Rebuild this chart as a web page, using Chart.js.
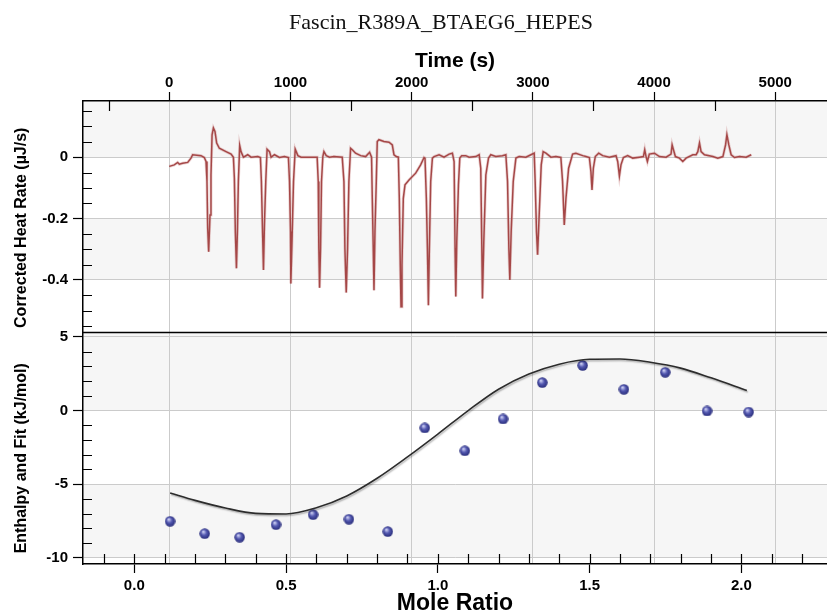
<!DOCTYPE html>
<html>
<head>
<meta charset="utf-8">
<title>Fascin_R389A_BTAEG6_HEPES</title>
<script src="https://cdn.jsdelivr.net/npm/chart.js@4.4.1/dist/chart.umd.min.js"></script>
<style>
  html, body { margin: 0; padding: 0; background: #fff; }
  #wrap { width: 827px; height: 613px; }
</style>
</head>
<body>
<div id="wrap"><canvas id="itc" width="827" height="613"></canvas></div>
<script>
// ─── Values ──────────────────────────────────────────────────────────────────
const TITLE = "Fascin_R389A_BTAEG6_HEPES";

// raw thermogram: time (s) and corrected heat rate (µJ/s)
const THERMO_TIME = [
    0, 41, 69, 83, 110, 152, 179, 193, 262, 289,
    303, 311, 317, 325, 336, 344, 353, 364, 377, 391,
    413, 468, 510, 529, 537, 545, 554, 562, 570, 581,
    592, 612, 647, 675, 730, 752, 760, 769, 777, 785,
    796, 807, 827, 840, 868, 909, 950, 983, 992, 1000,
    1003, 1014, 1025, 1039, 1061, 1088,
    1124, 1220, 1229, 1234, 1240, 1248, 1256, 1267, 1276, 1295,
    1322, 1358, 1427, 1441, 1449, 1460, 1471, 1482, 1496, 1510,
    1537, 1579, 1620, 1653, 1669, 1675, 1683, 1689, 1697, 1708,
    1716, 1730, 1771, 1813, 1840, 1854, 1873, 1890, 1898, 1906,
    1912, 1920, 1931, 1945, 1978, 2033, 2074, 2102, 2110, 2121,
    2130, 2138, 2146, 2157, 2171, 2185, 2226, 2267, 2309,
    2336, 2350, 2358, 2364, 2372, 2386, 2397, 2413, 2446, 2474,
    2529, 2557, 2570, 2579, 2584, 2595, 2612, 2634, 2653, 2694,
    2749, 2777, 2791, 2802, 2810, 2821, 2838, 2860, 2887, 2942,
    2984, 3011, 3019, 3030, 3039, 3052, 3069, 3085, 3108, 3149,
    3190, 3231, 3245, 3259, 3273, 3295, 3328, 3355, 3411,
    3438, 3466, 3479, 3488, 3499, 3515, 3543, 3576, 3631, 3686,
    3700, 3714, 3727, 3747, 3782, 3824, 3879, 3912, 3923, 3934,
    3945, 3961, 4003, 4044, 4099, 4140, 4149, 4160, 4176, 4209,
    4237, 4264, 4320, 4347, 4361, 4375, 4388, 4416, 4485, 4526,
    4568, 4590, 4601, 4617, 4636, 4664, 4705, 4760, 4802,
];
const THERMO_RATE = [
    -0.030, -0.025, -0.017, -0.023, -0.020, -0.017, -0.003, 0.008, 0.005, -0.001,
    -0.014, -0.079, -0.232, -0.308, -0.188, -0.058, 0.073, 0.095, 0.084, 0.046,
    0.029, 0.018, 0.010, 0, -0.068, -0.242, -0.362, -0.242, -0.079, 0.038,
    0.018, 0, 0.008, 0, 0.002, -0.001, -0.079, -0.232, -0.367, -0.221,
    -0.079, 0.026, 0.018, 0, 0.008, -0.001, 0.002, -0.001, -0.079, -0.242,
    -0.411, -0.253, -0.079, 0.026, 0.005, 0,
    0, 0, -0.079, -0.297, -0.425, -0.297, -0.079, 0.002, 0.018, 0.005,
    0, 0.002, 0, -0.079, -0.297, -0.441, -0.297, -0.079, 0.029, 0.024,
    0.013, 0.005, 0.002, 0.016, 0, -0.134, -0.297, -0.433, -0.242, -0.079,
    0.051, 0.057, 0.051, 0.049, 0.040, 0.008, 0.002, 0, -0.134, -0.351,
    -0.487, -0.351, -0.134, -0.090, -0.074, -0.052, -0.025, -0.001, -0.003, -0.134,
    -0.297, -0.482, -0.297, -0.079, -0.003, 0.002, 0.008, 0, 0.010,
    0.013, -0.014, -0.297, -0.454, -0.275, -0.090, -0.003, 0.005, 0.005, 0,
    0.002, 0.008, -0.036, -0.297, -0.460, -0.275, -0.058, -0.003, 0.008, 0.002,
    0.005, 0.008, -0.079, -0.297, -0.400, -0.242, -0.079, -0.003, 0.002, 0,
    0.008, 0.013, -0.079, -0.242, -0.318, -0.188, -0.025, 0.018, 0.013, 0,
    0.002, -0.001, -0.079, -0.221, -0.134, -0.036, 0.010, 0.013, 0.005,
    0.002, -0.001, -0.047, -0.107, -0.036, 0.002, 0.013, 0.005, 0, 0.005,
    -0.014, -0.061, -0.025, -0.001, 0.005, -0.003, 0, 0.002, 0.024, 0.002,
    -0.014, 0.010, 0.013, 0.002, 0, 0.010, 0.040, 0.024, 0.002, -0.003,
    -0.014, -0.003, 0.008, 0.008, 0.018, 0.046, 0.018, 0.008, 0.002, -0.003,
    0.002, 0.040, 0.073, 0.040, 0.008, -0.001, 0.002, 0, 0.008,
];

// integrated injections
const MOLE_RATIO = [0.118, 0.232, 0.347, 0.467, 0.589, 0.707, 0.835, 0.957,
                    1.089, 1.215, 1.344, 1.477, 1.613, 1.749, 1.887, 2.024];
const ENTHALPY   = [-7.52, -8.36, -8.60, -7.75, -7.07, -7.38, -8.22, -1.18,
                    -2.73, -0.57, 1.90, 3.06, 1.44, 2.60, -0.03, -0.10];

// fitted curve
const FIT_RATIO    = [0.118, 0.2, 0.3, 0.4, 0.5, 0.6, 0.7, 0.8, 0.9, 1.0,
                      1.1, 1.2, 1.3, 1.4, 1.5, 1.6, 1.7, 1.8, 1.9, 2.018];
const FIT_ENTHALPY = [-5.60, -6.10, -6.62, -6.98, -7.02, -6.60, -5.80, -4.60, -3.15, -1.60,
                      0.00, 1.45, 2.48, 3.15, 3.48, 3.50, 3.28, 2.88, 2.22, 1.36];

// ─── Axis ticks ──────────────────────────────────────────────────────────────
const TIME_TICKS  = [0, 1000, 2000, 3000, 4000, 5000];
const TIME_MINOR  = [-500, 500, 1500, 2500, 3500, 4500];
const HEAT_TICKS  = [0, -0.2, -0.4];
const HEAT_MINOR  = [0.15, 0.1, 0.05, -0.05, -0.1, -0.15, -0.25, -0.3, -0.35, -0.45, -0.5, -0.55];
const ENTH_TICKS  = [5, 0, -5, -10];
const ENTH_MINOR  = [4, 3, 2, 1, -1, -2, -3, -4, -6, -7, -8, -9];
const RATIO_TICKS = [0, 0.5, 1, 1.5, 2];
const RATIO_MINOR = [-0.1, 0, 0.1, 0.2, 0.3, 0.4, 0.5, 0.6, 0.7, 0.8, 0.9, 1.0, 1.1,
                     1.2, 1.3, 1.4, 1.5, 1.6, 1.7, 1.8, 1.9, 2.0, 2.1, 2.2];

// shaded bands (value ranges) in each panel
const HEAT_SHADE = [[0, 1], [-0.4, -0.2]];
const ENTH_SHADE = [[0, 10], [-10, -5]];

// ─── Styling ─────────────────────────────────────────────────────────────────
const FONT   = "'Liberation Sans', Arial, sans-serif";
const GRID   = "#cbcbcb";
const BAND   = "#f6f6f6";

Chart.defaults.font.family = FONT;
Chart.defaults.color = "#000";

// little shaded ball used for the injection points
function makeBall() {
    const c = document.createElement("canvas");
    c.width = c.height = 11;
    const g = c.getContext("2d");
    const grad = g.createRadialGradient(4, 3.5, 0.5, 5.5, 5.5, 5.5);
    grad.addColorStop(0, "#c9ccf2");
    grad.addColorStop(0.45, "#5358b0");
    grad.addColorStop(1, "#262a78");
    g.fillStyle = grad;
    g.beginPath();
    g.arc(5.5, 5.5, 5.2, 0, Math.PI * 2);
    g.fill();
    return c;
}

const tickFont = { size: 15, weight: "bold" };

// bands, inner minor ticks, panel divider, titles
const decorations = {
    id: "decorations",
    beforeDraw(chart) {
        const { ctx, chartArea: a, scales } = chart;
        ctx.save();
        ctx.fillStyle = BAND;
        const shade = (scale, bands) => bands.forEach(([lo, hi]) => {
            const y1 = Math.max(scale.getPixelForValue(hi), scale.top);
            const y2 = Math.min(scale.getPixelForValue(lo), scale.bottom);
            if (y2 > y1) ctx.fillRect(a.left, y1, a.right - a.left, y2 - y1);
        });
        shade(scales.heat, HEAT_SHADE);
        shade(scales.enth, ENTH_SHADE);
        ctx.restore();
    },
    beforeDatasetDraw(chart, args) {
        const ds = chart.data.datasets[args.index];
        if (!ds.shadow) return;
        const ctx = chart.ctx;
        ctx.save();
        ctx.shadowColor = ds.shadow.color;
        ctx.shadowOffsetX = ds.shadow.dx;
        ctx.shadowOffsetY = ds.shadow.dy;
        ctx.shadowBlur = ds.shadow.blur;
    },
    afterDatasetDraw(chart, args) {
        if (chart.data.datasets[args.index].shadow) chart.ctx.restore();
    },
    afterDraw(chart) {
        const { ctx, chartArea: a, scales } = chart;
        const px = v => Math.round(v) + 0.5;
        ctx.save();
        ctx.strokeStyle = "#000";
        ctx.lineWidth = 1.2;
        ctx.beginPath();
        TIME_MINOR.forEach(v => {
            const x = px(scales.time.getPixelForValue(v));
            ctx.moveTo(x, a.top); ctx.lineTo(x, a.top + 10);
        });
        RATIO_MINOR.forEach(v => {
            const x = px(scales.mole.getPixelForValue(v));
            ctx.moveTo(x, a.bottom); ctx.lineTo(x, a.bottom - 10);
        });
        HEAT_MINOR.forEach(v => {
            const y = px(scales.heat.getPixelForValue(v));
            ctx.moveTo(a.left, y); ctx.lineTo(a.left + 9, y);
        });
        ENTH_MINOR.forEach(v => {
            const y = px(scales.enth.getPixelForValue(v));
            ctx.moveTo(a.left, y); ctx.lineTo(a.left + 9, y);
        });
        ctx.stroke();

        // divider between the two panels
        ctx.lineWidth = 1.5;
        ctx.beginPath();
        const yd = scales.heat.bottom;
        ctx.moveTo(a.left, yd); ctx.lineTo(a.right, yd);
        ctx.stroke();

        // figure title
        ctx.fillStyle = "#111";
        ctx.font = "22px 'Liberation Serif', 'Times New Roman', serif";
        ctx.textAlign = "center";
        ctx.textBaseline = "middle";
        ctx.fillText(TITLE, 441, 23);

        // vertical axis titles
        ctx.fillStyle = "#000";
        ctx.font = `bold 16px ${FONT}`;
        const vTitle = (text, scale, shift) => {
            ctx.save();
            ctx.translate(22, (scale.top + scale.bottom) / 2 + shift);
            ctx.rotate(-Math.PI / 2);
            ctx.fillText(text, 0, 0);
            ctx.restore();
        };
        vTitle("Corrected Heat Rate (µJ/s)", scales.heat, 11);
        vTitle("Enthalpy and Fit (kJ/mol)", scales.enth, 10);
        ctx.restore();
    },
};

const thermo = THERMO_TIME.map((t, i) => ({ x: t, y: THERMO_RATE[i] }));
const points = MOLE_RATIO.map((m, i) => ({ x: m, y: ENTHALPY[i] }));
const fit    = FIT_RATIO.map((m, i) => ({ x: m, y: FIT_ENTHALPY[i] }));

new Chart(document.getElementById("itc"), {
    type: "scatter",
    data: {
        datasets: [
            {   // soft halo of the raw trace
                data: thermo, xAxisID: "time", yAxisID: "heat",
                showLine: true, pointRadius: 0,
                borderColor: "rgba(205,140,140,0.4)", borderWidth: 3,
            },
            {
                data: thermo, xAxisID: "time", yAxisID: "heat",
                showLine: true, pointRadius: 0,
                borderColor: "#8a1a1a", borderWidth: 1.5,
            },
            {
                data: fit, xAxisID: "mole", yAxisID: "enth",
                showLine: true, pointRadius: 0,
                cubicInterpolationMode: "monotone",
                borderColor: "#2c2c2c", borderWidth: 1.6,
                shadow: { color: "rgba(0,0,0,0.3)", dx: 1, dy: 1.5, blur: 1.5 },
            },
            {
                data: points, xAxisID: "mole", yAxisID: "enth",
                showLine: false, pointStyle: makeBall(), pointRadius: 5.5,
            },
        ],
    },
    options: {
        responsive: false,
        animation: false,
        devicePixelRatio: 1,
        layout: { padding: 0, autoPadding: false },
        plugins: { legend: { display: false }, tooltip: { enabled: false }, title: { display: false } },
        scales: {
            time: {
                type: "linear", position: "top", min: -712, max: 5427,
                afterBuildTicks: s => { s.ticks = TIME_TICKS.map(value => ({ value })); },
                afterFit: s => { s.height = 101; },
                grid: { color: GRID, tickLength: 9, tickColor: "#000", tickWidth: 1.2 },
                border: { color: "#000", width: 1.5 },
                ticks: {
                    font: tickFont, color: "#000", padding: 0, maxRotation: 0, autoSkip: false,
                    callback: v => String(v),
                },
                title: {
                    display: true, text: "Time (s)", color: "#000",
                    font: { size: 21, weight: "bold" }, padding: { top: 49, bottom: 0 },
                },
            },
            mole: {
                type: "linear", position: "bottom", min: -0.169, max: 2.282,
                afterBuildTicks: s => { s.ticks = RATIO_TICKS.map(value => ({ value })); },
                afterFit: s => { s.height = 49; },
                grid: { drawOnChartArea: false, tickLength: 9, tickColor: "#000", tickWidth: 1.2 },
                border: { color: "#000", width: 1.5 },
                ticks: {
                    font: tickFont, color: "#000", padding: 4, maxRotation: 0, autoSkip: false,
                    callback: v => Number(v).toFixed(1),
                },
                title: {
                    display: true, text: "Mole Ratio", color: "#000",
                    font: { size: 23, weight: "bold", lineHeight: 1 }, padding: { top: 0, bottom: -2 },
                },
            },
            // listed bottom panel first: the left stack is placed in reverse order
            enth: {
                type: "linear", position: "left", stack: "panels", stackWeight: 1,
                min: -10.42, max: 5.30,
                afterBuildTicks: s => { s.ticks = ENTH_TICKS.map(value => ({ value })); },
                afterFit: s => { s.width = 83; },
                grid: { color: GRID, tickLength: 10, tickColor: "#000", tickWidth: 1.2 },
                border: { color: "#000", width: 1.5 },
                ticks: { font: tickFont, color: "#000", padding: 5, autoSkip: false, callback: v => String(v) },
            },
            heat: {
                type: "linear", position: "left", stack: "panels", stackWeight: 1,
                min: -0.571, max: 0.183,
                afterBuildTicks: s => { s.ticks = HEAT_TICKS.map(value => ({ value })); },
                afterFit: s => { s.width = 83; },
                grid: { color: GRID, tickLength: 10, tickColor: "#000", tickWidth: 1.2 },
                border: { color: "#000", width: 1.5 },
                ticks: { font: tickFont, color: "#000", padding: 5, autoSkip: false, callback: v => String(v) },
            },
        },
    },
    plugins: [decorations],
});
</script>
</body>
</html>
